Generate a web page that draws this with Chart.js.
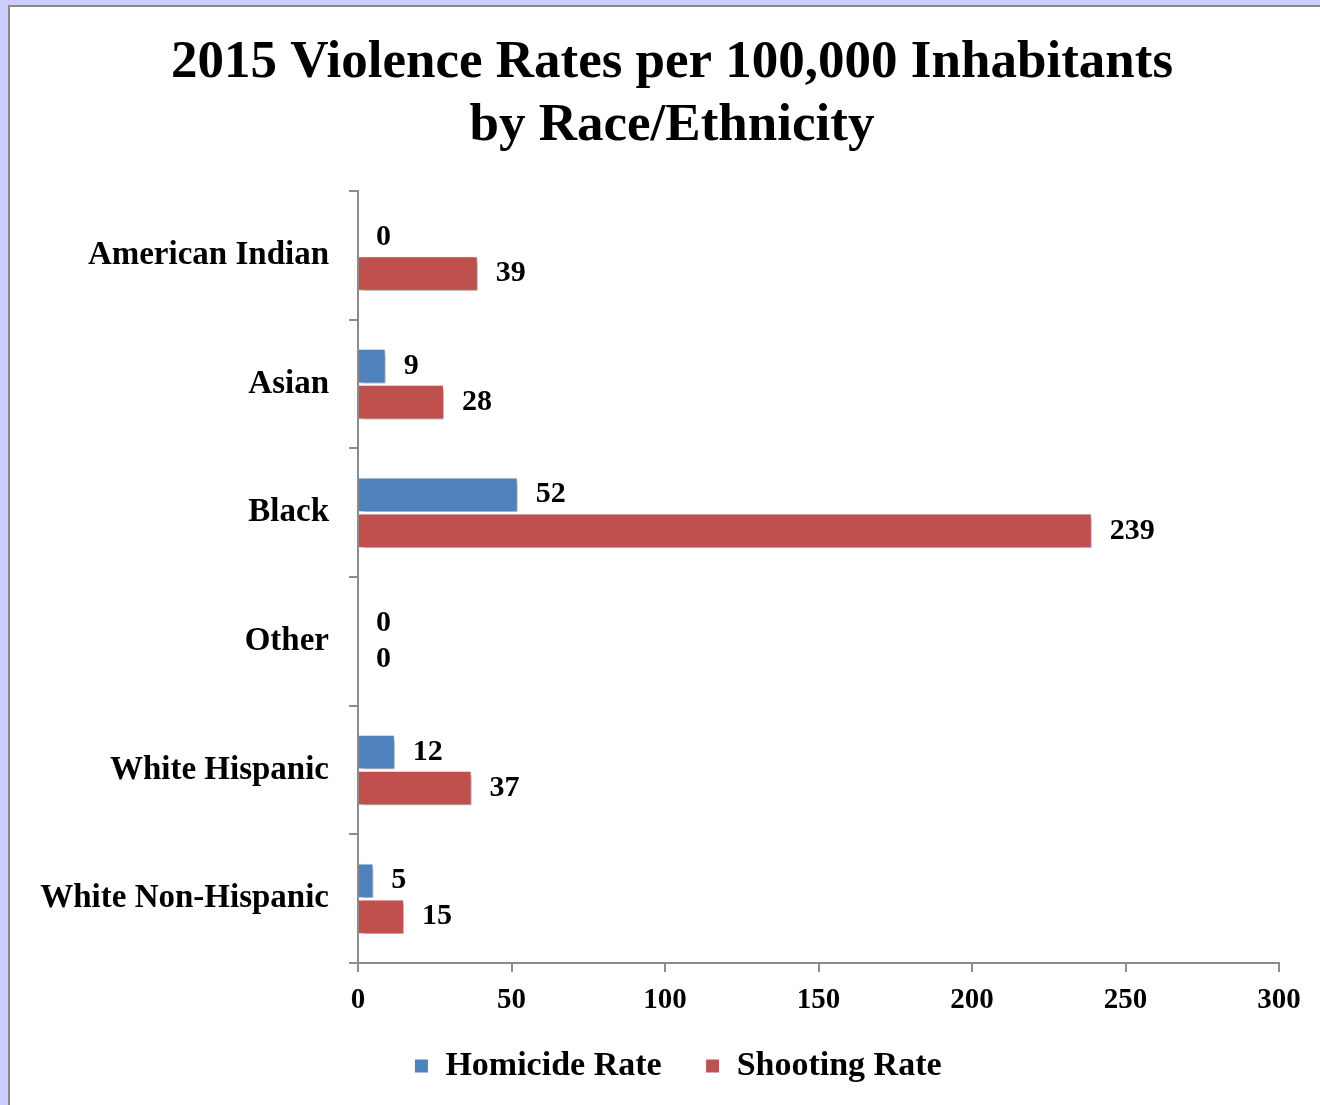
<!DOCTYPE html>
<html>
<head>
  <style>
    body {
      margin: 0;
      padding: 0;
      background: #ccccff;
      overflow: hidden;
    }
    #panel {
      position: absolute;
      left: 8px;
      top: 5px;
      width: 1330px;
      height: 1120px;
      background: #fff;
      border-left: 2px solid #8a8a8a;
      border-top: 2px solid #8a8a8a;
    }
    #chart {
      position: absolute;
      left: 0;
      top: 0;
    }
  </style>
  <script src="https://cdn.jsdelivr.net/npm/chart.js"></script>
</head>
<body>
  <div id="panel"></div>
  <canvas id="chart" width="1320" height="1105"></canvas>

  <script>
    // Data
    const categories = ["American Indian", "Asian", "Black", "Other", "White Hispanic", "White Non-Hispanic"];
    const homicideRate = [0, 9, 52, 0, 12, 5];
    const shootingRate = [39, 28, 239, 0, 37, 15];
    const xTicks = [0, 50, 100, 150, 200, 250, 300];

    const serif = "'Liberation Serif', 'Times New Roman', serif";
    const axisGray = "#8c8c8c";

    // shadow under the bars, then value labels after the bars
    const barExtras = {
      id: "barExtras",
      afterLayout(chart) {
        // title and legend sit right of the canvas centre in the original,
        // legend is also pulled up a little
        const tb = chart.titleBlock;
        const dxT = 672 - (tb.left + tb.right) / 2;
        tb.left += dxT;
        tb.right += dxT;
        const lg = chart.legend;
        const dxL = 678 - (lg.left + lg.right) / 2;
        lg.left += dxL;
        lg.right += dxL;
        lg.top -= 14;
        lg.bottom -= 14;
      },
      beforeDatasetsDraw(chart) {
        const ctx = chart.ctx;
        ctx.save();
        ctx.shadowColor = "rgba(0,0,0,0.4)";
        ctx.shadowOffsetX = 2;
        ctx.shadowOffsetY = 3;
        ctx.shadowBlur = 5;
      },
      afterDatasetsDraw(chart) {
        const ctx = chart.ctx;
        ctx.restore();
        ctx.save();
        ctx.font = "bold 30px " + serif;
        ctx.fillStyle = "#000";
        ctx.textAlign = "left";
        ctx.textBaseline = "middle";
        chart.data.datasets.forEach((ds, i) => {
          chart.getDatasetMeta(i).data.forEach((bar, j) => {
            ctx.fillText(String(ds.data[j]), bar.x + 18, bar.y);
          });
        });
        ctx.restore();
      }
    };

    const ctx = document.getElementById("chart").getContext("2d");
    const chart = new Chart(ctx, {
      type: "bar",
      data: {
        labels: categories,
        datasets: [
          {
            label: "Homicide Rate",
            data: homicideRate,
            backgroundColor: "#4f81bd",
            borderColor: "#ffffff",
            borderWidth: 1,
            categoryPercentage: 0.56,
            barPercentage: 0.96
          },
          {
            label: "Shooting Rate",
            data: shootingRate,
            backgroundColor: "#c0504d",
            borderColor: "#ffffff",
            borderWidth: 1,
            categoryPercentage: 0.56,
            barPercentage: 0.96
          }
        ]
      },
      options: {
        indexAxis: "y",
        responsive: false,
        animation: false,
        events: [],
        layout: {
          padding: { left: 0, right: 41, top: 0, bottom: 0 }
        },
        scales: {
          x: {
            type: "linear",
            min: 0,
            max: 300,
            afterBuildTicks: function (scale) {
              scale.ticks = xTicks.map(v => ({ value: v }));
            },
            afterFit: function (scale) {
              scale.height = 56;
            },
            grid: {
              drawOnChartArea: false,
              tickLength: 9,
              color: axisGray,
              lineWidth: 2
            },
            border: { color: axisGray, width: 2 },
            ticks: {
              color: "#000",
              padding: 11,
              font: { family: serif, size: 29, weight: "bold", lineHeight: 1.2 }
            }
          },
          y: {
            afterFit: function (scale) {
              scale.width = 358;
            },
            grid: {
              drawOnChartArea: false,
              offset: true,
              tickLength: 9,
              color: axisGray,
              lineWidth: 2
            },
            border: { color: axisGray, width: 2 },
            ticks: {
              color: "#000",
              padding: 20,
              font: { family: serif, size: 33, weight: "bold" }
            }
          }
        },
        plugins: {
          title: {
            display: true,
            text: ["2015 Violence Rates per 100,000 Inhabitants", "by Race/Ethnicity"],
            color: "#000",
            font: { family: serif, size: 53, weight: "bold", lineHeight: 1.19 },
            padding: { top: 32, bottom: 33 }
          },
          legend: {
            position: "bottom",
            maxHeight: 86,
            labels: {
              color: "#000",
              boxWidth: 14,
              boxHeight: 14,
              padding: 44,
              font: { family: serif, size: 34, weight: "bold" }
            }
          },
          tooltip: { enabled: false }
        }
      },
      plugins: [barExtras]
    });
  </script>
</body>
</html>
